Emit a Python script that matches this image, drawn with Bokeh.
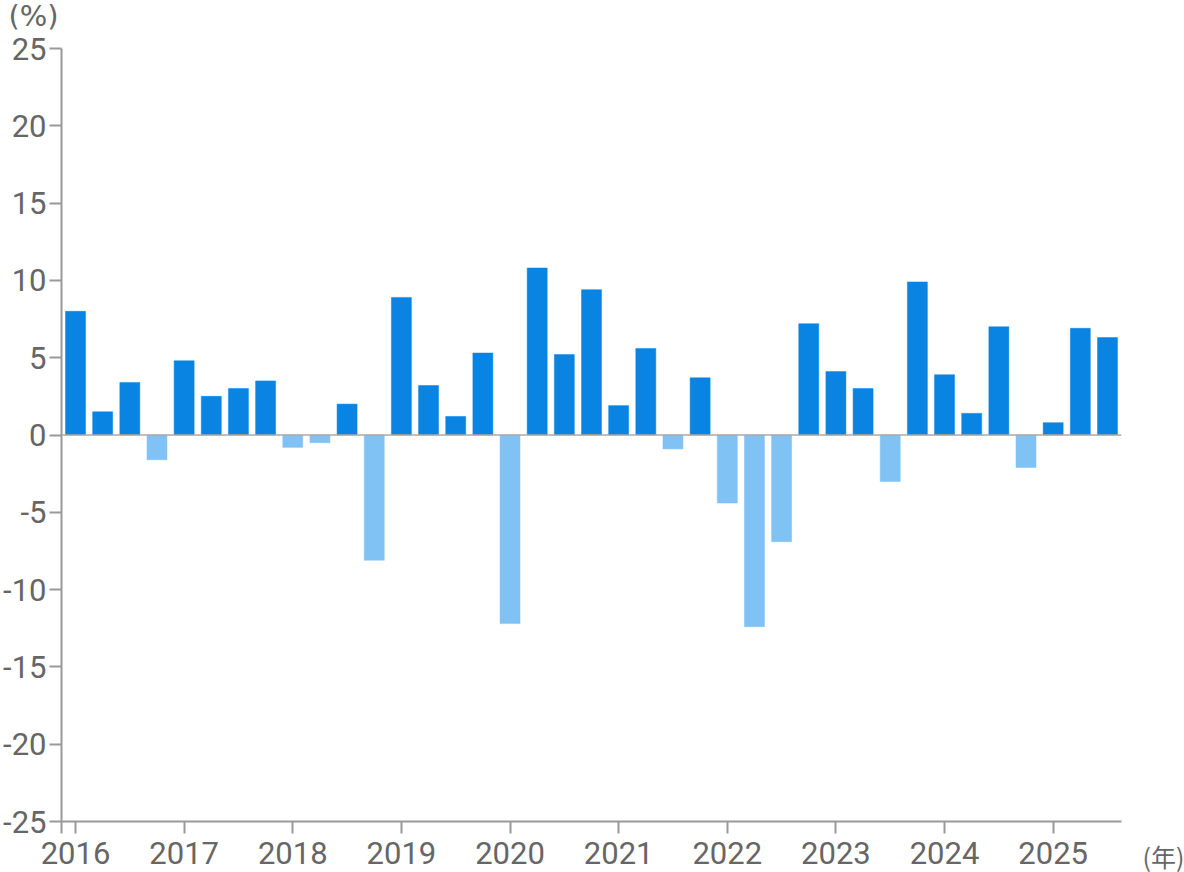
from bokeh.plotting import figure
from bokeh.models import ColumnDataSource, FixedTicker, Span, Label, Range1d, CustomJSTickFormatter
from bokeh.embed import file_html
from bokeh.resources import INLINE

# ---- data ----
years = [2016, 2017, 2018, 2019, 2020, 2021, 2022, 2023, 2024, 2025]
quarters = [1, 2, 3, 4]
values_2016 = [8.0, 1.5, 3.4, -1.6]
values_2017 = [4.8, 2.5, 3.0, 3.5]
values_2018 = [-0.8, -0.5, 2.0, -8.1]
values_2019 = [8.9, 3.2, 1.2, 5.3]
values_2020 = [-12.2, 10.8, 5.2, 9.4]
values_2021 = [1.9, 5.6, -0.9, 3.7]
values_2022 = [-4.4, -12.4, -6.9, 7.2]
values_2023 = [4.1, 3.0, -3.0, 9.9]
values_2024 = [3.9, 1.4, 7.0, -2.1]
values_2025 = [0.8, 6.9, 6.3]
y_ticks = [-25, -20, -15, -10, -5, 0, 5, 10, 15, 20, 25]
y_unit = "(%)"
x_unit = "(年)"

all_values = [values_2016, values_2017, values_2018, values_2019, values_2020,
              values_2021, values_2022, values_2023, values_2024, values_2025]

xs, tops, colors = [], [], []
for yr, vals in zip(years, all_values):
    for q, v in zip(quarters, vals):
        xs.append(yr + (q - 1) / 4)
        tops.append(v)
        colors.append("#0984e3" if v >= 0 else "#80c2f4")

src = ColumnDataSource(dict(x=xs, top=tops, color=colors))

X0, X1 = 2015.871, 2025.629
TEXT = "#666666"
AXIS = "#999999"
FONT = "Roboto"
FS = "31px"

p = figure(width=1184, height=872, output_backend="svg", toolbar_location=None,
           x_range=Range1d(X0, X1), y_range=Range1d(-25, 25),
           min_border_left=61, min_border_right=63, min_border_top=48, min_border_bottom=51)
p.outline_line_color = None
p.xgrid.visible = False
p.ygrid.visible = False
p.background_fill_color = "white"

p.vbar(x="x", top="top", bottom=0, width=0.184, fill_color="color",
       line_color="color", line_alpha=0.5, line_width=1, source=src)

p.add_layout(Span(location=0, dimension="width", line_color="#aaaaaa", line_width=1.5))

# y axis
ya = p.yaxis[0]
ya.ticker = FixedTicker(ticks=y_ticks)
ya.formatter = CustomJSTickFormatter(code="return String(tick);")
ya.axis_line_color = AXIS
ya.axis_line_width = 2
ya.major_tick_line_color = AXIS
ya.major_tick_line_width = 2
ya.major_tick_out = 12
ya.major_tick_in = 0
ya.minor_tick_line_color = None
ya.major_label_standoff = 3
ya.major_label_text_font = FONT
ya.major_label_text_font_size = FS
ya.major_label_text_color = TEXT

# x axis
xa = p.xaxis[0]
xa.ticker = FixedTicker(ticks=[X0] + years)
xa.formatter = CustomJSTickFormatter(code="return tick < 2016 ? '' : tick.toFixed(0);")
xa.axis_line_color = AXIS
xa.axis_line_width = 2
xa.major_tick_line_color = AXIS
xa.major_tick_line_width = 2
xa.major_tick_out = 12
xa.major_tick_in = 0
xa.minor_tick_line_color = None
xa.major_label_standoff = 8
xa.major_label_text_font = FONT
xa.major_label_text_font_size = FS
xa.major_label_text_color = TEXT

p.add_layout(Label(x=X0, y=25, x_offset=-53, y_offset=33, text=y_unit,
                   text_font="DejaVu Sans", text_font_size="29px", text_color=TEXT,
                   text_baseline="middle", text_align="left"), "above")
p.add_layout(Label(x=X1, y=-25, x_offset=21, y_offset=-34, text=x_unit,
                   text_font="Noto Sans CJK JP", text_font_size="25px", text_color=TEXT,
                   text_baseline="middle", text_align="left"), "right")

open("out.html", "w").write(file_html(p, INLINE))
